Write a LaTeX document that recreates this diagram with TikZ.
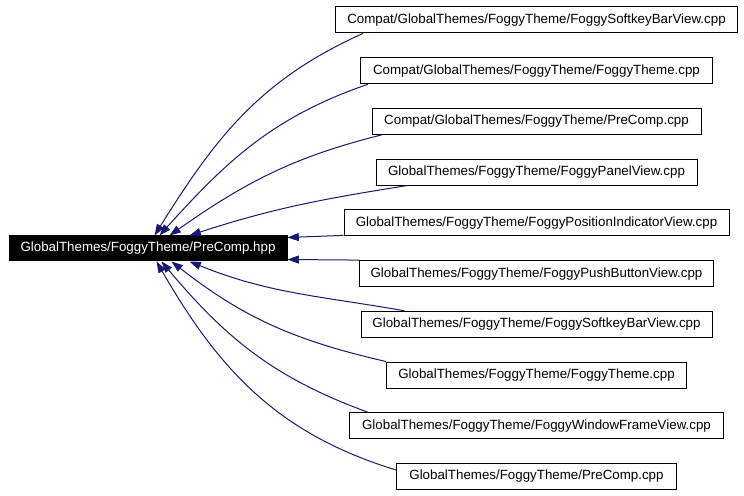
\documentclass[tikz,border=0pt]{standalone}
\usepackage{fontspec}
\setmainfont{Liberation Sans}
\usetikzlibrary{arrows.meta,calc}
\definecolor{edgeblue}{HTML}{191970}
\tikzset{
  file/.style={draw, line width=0.75pt, minimum height=19.5pt, inner xsep=1pt,
    font=\fontsize{10}{12}\selectfont},
  incl/.style={edgeblue, line width=0.75pt, -{Triangle[length=8.5pt,width=6pt]}},
}
\begin{document}
\begin{tikzpicture}[x=0.75pt, y=0.75pt]
  \useasboundingbox (0,0) rectangle (744,496);
  \node[file, fill=black, text=white, minimum width=208.5pt, minimum height=18.75pt] (main)
    at (148,247.5) {GlobalThemes/FoggyTheme/PreComp.hpp};
  \foreach \w/\lab [count=\i] in {402/{Compat/GlobalThemes/FoggyTheme/FoggySoftkeyBarView.cpp},
                                  352/{Compat/GlobalThemes/FoggyTheme/FoggyTheme.cpp},
                                  329/{Compat/GlobalThemes/FoggyTheme/PreComp.cpp},
                                  321/{GlobalThemes/FoggyTheme/FoggyPanelView.cpp},
                                  385/{GlobalThemes/FoggyTheme/FoggyPositionIndicatorView.cpp},
                                  354/{GlobalThemes/FoggyTheme/FoggyPushButtonView.cpp},
                                  351/{GlobalThemes/FoggyTheme/FoggySoftkeyBarView.cpp},
                                  300/{GlobalThemes/FoggyTheme/FoggyTheme.cpp},
                                  374/{GlobalThemes/FoggyTheme/FoggyWindowFrameView.cpp},
                                  280/{GlobalThemes/FoggyTheme/PreComp.cpp}}
    \node[file, minimum width=\w*0.75pt] (f\i) at (536.5, {476-50.72*(\i-1)}) {\lab};
  \draw[incl] ($(f1.south west)+(28,0)$) to[out=204, in=58] ($(main.north west)+(146,0)$);
  \draw[incl] ($(f2.south west)+(8,0)$) to[out=199, in=48] ($(main.north west)+(151,0)$);
  \draw[incl] ($(f3.south west)+(10,0)$) to[out=194, in=35] ($(main.north west)+(161,0)$);
  \draw[incl] ($(f4.south west)+(31,0)$) to[out=189, in=18] ($(main.north west)+(181,0)$);
  \draw[incl] ($(f5.south west)+(0,1)$) -- ($(main.north east)+(0,-2)$);
  \draw[incl] (f6.north west) -- ($(main.south east)+(0,2)$);
  \draw[incl] ($(f7.north west)+(44,0)$) to[out=170, in=-22] ($(main.south west)+(181,0)$);
  \draw[incl] (f8.north west) to[out=167, in=-38] ($(main.south west)+(163,0)$);
  \draw[incl] ($(f9.north west)+(19,0)$) to[out=160, in=-50] ($(main.south west)+(153,0)$);
  \draw[incl] ($(f10.north west)+(0,-7)$) to[out=163, in=-60] ($(main.south west)+(148,0)$);
\end{tikzpicture}
\end{document}
